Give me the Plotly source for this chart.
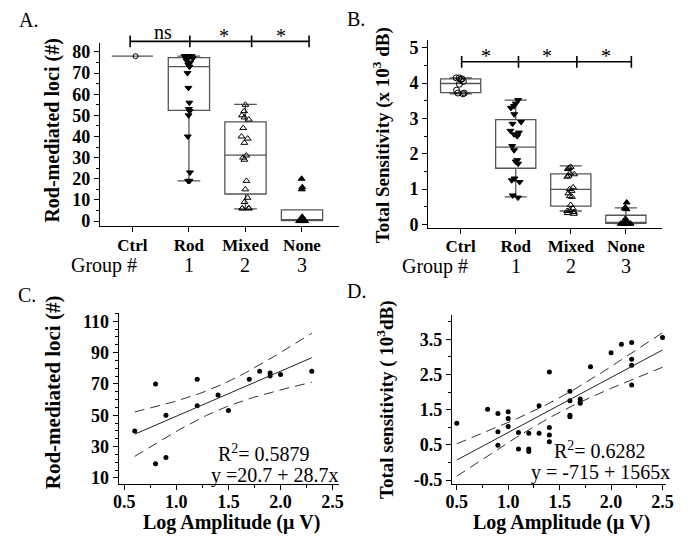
import numpy as np
import plotly.graph_objects as go

FONT = "Liberation Serif"

# ---------------- data ----------------
GROUPS = ["Ctrl", "Rod", "Mixed", "None"]
GROUP_NUMS = ["1", "2", "3"]

# Panel A: rod-mediated loci (#)
A_CTRL = [78]
A_ROD = [78, 78, 78, 78, 77, 77, 77, 76, 75, 74, 73, 70, 63, 56, 53, 52, 50, 40, 23, 19, 19]
A_MIXED = [55, 52, 50, 49, 48, 44, 40, 39, 37, 31, 30, 29, 19, 15, 11, 9, 6, 6, 6, 6]
A_NONE = [20, 16, 15, 2, 1, 0.5, 0.5, 0.5, 0, 0, 0, 0, 0, 0]
A_Q1 = [78, 52.4, 12.8, 0.2]
A_MED = [78, 73.1, 31.2, 0.4]
A_Q3 = [78, 77.3, 46.9, 5.3]
A_LO = [78, 19.0, 5.8, 0.2]
A_HI = [78, 78.0, 55.2, 5.3]
A_SIG_X = [-0.04, 1.017, 2.109, 3.125]
A_SIG_TXT = ["ns", "*", "*"]

# Panel B: total sensitivity (x10^3 dB)
B_CTRL = [4.15, 4.15, 4.12, 4.10, 4.05, 3.97, 3.80, 3.72, 3.72, 3.70]
B_ROD = [3.52, 3.42, 3.35, 3.30, 3.12, 2.90, 2.85, 2.65, 2.60, 2.55, 2.50, 2.22, 2.10,
         1.82, 1.78, 1.72, 1.30, 1.25, 1.20, 0.82, 0.76]
B_MIXED = [1.63, 1.60, 1.57, 1.45, 1.42, 1.38, 1.35, 1.05, 1.00, 0.95, 0.88, 0.80, 0.78,
           0.55, 0.45, 0.40, 0.38, 0.35, 0.32, 0.30]
B_NONE = [0.62, 0.48, 0.45, 0.43, 0.16, 0.07, 0.03, 0.03, 0.02, 0.02, 0.02, 0.02, 0.02,
          0.02, 0.02, 0.02]
B_Q1 = [3.73, 1.59, 0.52, 0.03]
B_MED = [3.99, 2.19, 0.99, 0.04]
B_Q3 = [4.12, 2.97, 1.43, 0.26]
B_LO = [3.70, 0.78, 0.38, 0.02]
B_HI = [4.15, 3.52, 1.66, 0.47]
B_SIG_X = [0.018, 1.05, 2.11, 3.10]
B_SIG_TXT = ["*", "*", "*"]

# Panel C: rod-mediated loci vs log amplitude
C_X = [0.6, 0.8, 0.8, 0.9, 0.9, 1.2, 1.2, 1.4, 1.5, 1.7, 1.8, 1.9, 1.9, 2.0, 2.3]
C_Y = [40, 70, 19, 50, 23, 73, 56, 63, 53, 73, 78, 77, 75, 76, 78]
C_FIT = [20.7, 28.7]          # intercept, slope
C_R2 = "0.5879"
C_T = 2.160                   # t(0.975, n-2)

# Panel D: total sensitivity (10^3 dB) vs log amplitude
D_X = [0.5, 0.8, 0.9, 0.9, 0.9, 1.0, 1.0, 1.0, 1.1, 1.1, 1.2, 1.2, 1.2, 1.3, 1.3,
       1.4, 1.4, 1.4, 1.4, 1.6, 1.6, 1.6, 1.6, 1.7, 1.7, 1.7, 1.8, 2.0, 2.1,
       2.2, 2.2, 2.2, 2.2, 2.5]
D_Y = [1.11, 1.51, 1.39, 0.87, 0.49, 1.44, 1.25, 1.02, 0.85, 0.38, 0.83, 0.38, 0.31,
       0.83, 1.61, 2.57, 0.99, 0.78, 0.59, 2.02, 1.75, 1.34, 1.30, 1.80, 1.73, 1.68,
       2.72, 3.12, 3.36, 3.41, 2.93, 2.76, 2.20, 3.55]
D_FIT_DB = [-715, 1565]       # intercept, slope in dB
D_R2 = "0.6282"
D_T = 2.037

# ---------------- figure ----------------
fig = go.Figure()

def add_group_panel(xa, ya, groups_vals, q1, med, q3, lo, hi, symbols, sizes):
    fig.add_trace(go.Box(
        x=list(range(len(GROUPS))), q1=q1, median=med, q3=q3,
        lowerfence=lo, upperfence=hi, width=0.73, whiskerwidth=0.55,
        line=dict(color="#555555", width=1.3), fillcolor="rgba(0,0,0,0)",
        boxpoints=False, xaxis=xa, yaxis=ya, hoverinfo="skip"))
    for i, vals in enumerate(groups_vals):
        fig.add_trace(go.Box(
            x=[i] * len(vals), y=vals, boxpoints="all", jitter=0.3, pointpos=0,
            width=0.73, line=dict(width=0), fillcolor="rgba(0,0,0,0)",
            marker=dict(symbol=symbols[i], size=sizes[i], color="black",
                        line=dict(color="black", width=1)),
            xaxis=xa, yaxis=ya))

SYMS = ["circle-open", "triangle-down", "triangle-up-open", "triangle-up"]
add_group_panel("x", "y", [A_CTRL, A_ROD, A_MIXED, A_NONE],
                A_Q1, A_MED, A_Q3, A_LO, A_HI, SYMS, [5, 6, 6, 6])
add_group_panel("x2", "y2", [B_CTRL, B_ROD, B_MIXED, B_NONE],
                B_Q1, B_MED, B_Q3, B_LO, B_HI, SYMS, [6, 6, 6, 6])

def add_reg_panel(xa, ya, xs, ys, b0, b1, tcrit):
    xs = np.asarray(xs, float)
    ys = np.asarray(ys, float)
    n = len(xs)
    resid = ys - (b0 + b1 * xs)
    s = np.sqrt(np.sum(resid ** 2) / (n - 2))
    sxx = np.sum((xs - xs.mean()) ** 2)
    grid = np.linspace(xs.min(), xs.max(), 80)
    fit = b0 + b1 * grid
    half = tcrit * s * np.sqrt(1.0 / n + (grid - xs.mean()) ** 2 / sxx)
    fig.add_trace(go.Scatter(x=xs, y=ys, mode="markers",
                             marker=dict(size=5, color="black"), xaxis=xa, yaxis=ya))
    fig.add_trace(go.Scatter(x=grid, y=fit, mode="lines",
                             line=dict(color="#222", width=1), xaxis=xa, yaxis=ya))
    for sign in (1, -1):
        fig.add_trace(go.Scatter(x=grid, y=fit + sign * half, mode="lines",
                                 line=dict(color="#333", width=1, dash="10px,6px"),
                                 xaxis=xa, yaxis=ya))

add_reg_panel("x3", "y3", C_X, C_Y, C_FIT[0], C_FIT[1], C_T)
add_reg_panel("x4", "y4", D_X, D_Y, D_FIT_DB[0] / 1000.0, D_FIT_DB[1] / 1000.0, D_T)

def axstyle(size, standoff=0):
    return dict(showline=True, linecolor="black", linewidth=1, ticks="outside",
                ticklen=5, tickcolor="black", showgrid=False, zeroline=False,
                ticklabelstandoff=standoff,
                tickfont=dict(family=FONT, size=size, color="black", weight="bold"))

minor = lambda d: dict(ticks="outside", ticklen=3, dtick=d, tickcolor="black", showgrid=False)

W, H = 694, 550
px = lambda v: v / W
py = lambda v: 1 - v / H

fig.update_layout(
    width=W, height=H, margin=dict(l=0, r=0, t=0, b=0),
    paper_bgcolor="white", plot_bgcolor="white", showlegend=False,
    boxmode="overlay", font=dict(family=FONT, color="black"),
    xaxis=dict(domain=[px(95.7), px(340)], range=[-0.577, 3.657], anchor="y",
               tickvals=[0, 1, 2, 3], ticktext=GROUPS, **axstyle(17, -1)),
    yaxis=dict(domain=[py(228), py(42.7)], range=[-2.2, 84.2], anchor="x",
               tickvals=list(range(0, 81, 10)), minor=minor(5), **axstyle(18)),
    xaxis2=dict(domain=[px(430.7), px(670)], range=[-0.593, 3.665], anchor="y2",
                tickvals=[0, 1, 2, 3], ticktext=GROUPS, **axstyle(17, -2)),
    yaxis2=dict(domain=[py(230), py(39.3)], range=[-0.092, 5.23], anchor="x2",
                tickvals=[0, 1, 2, 3, 4, 5], minor=minor(0.5), **axstyle(18)),
    xaxis3=dict(domain=[px(115), px(340)], range=[0.446, 2.563], anchor="y3",
                tickvals=[0.5, 1.0, 1.5, 2.0, 2.5], ticktext=["0.5", "1.0", "1.5", "2.0", "2.5"],
                minor=minor(0.25), **axstyle(18, -3)),
    yaxis3=dict(domain=[py(490), py(316.7)], range=[6.2, 115.2], anchor="x3",
                tickvals=[10, 30, 50, 70, 90, 110], minor=minor(5), **axstyle(18)),
    xaxis4=dict(domain=[px(455), px(673.3)], range=[0.452, 2.531], anchor="y4",
                tickvals=[0.5, 1.0, 1.5, 2.0, 2.5], ticktext=["0.5", "1.0", "1.5", "2.0", "2.5"],
                minor=minor(0.25), **axstyle(18, -3)),
    yaxis4=dict(domain=[py(490), py(318.3)], range=[-0.61, 4.2], anchor="x4",
                tickvals=[-0.5, 0.5, 1.5, 2.5, 3.5], ticktext=["-0.5", "0.5", "1.5", "2.5", "3.5"],
                minor=minor(0.5), **axstyle(18)),
)

# significance bars
shapes = []
annots = []
def sig_bars(xref, xs, ypx, labels, label_x_offsets, label_y):
    yb = py(ypx)
    shapes.append(dict(type="line", xref=xref, yref="paper", x0=xs[0], x1=xs[-1],
                       y0=yb, y1=yb, line=dict(color="black", width=1.6)))
    for xv in xs:
        shapes.append(dict(type="line", xref=xref, yref="paper", x0=xv, x1=xv,
                           y0=py(ypx - 6), y1=py(ypx + 6), line=dict(color="black", width=1.6)))
    for i, lab in enumerate(labels):
        xm = (xs[i] + xs[i + 1]) / 2
        annots.append(dict(text=lab, xref=xref, yref="paper", x=xm + label_x_offsets[i],
                           y=py(label_y if lab != "*" else label_y + 5), showarrow=False,
                           font=dict(family=FONT, size=20, color="black"),
                           xanchor="center", yanchor="middle", borderpad=0))

sig_bars("x", A_SIG_X, 41, A_SIG_TXT, [0.05, 0.05, 0.02], 31)
sig_bars("x2", B_SIG_X, 61.7, B_SIG_TXT, [-0.07, -0.01, 0.03], 51)

def text(t, x, y, size=20, bold=False, xanchor="center", angle=0, xref="paper"):
    annots.append(dict(text=t, x=x, y=y, xref=xref, yref="paper", showarrow=False,
                       textangle=angle, xanchor=xanchor, yanchor="middle", borderpad=0,
                       font=dict(family=FONT, size=size, color="black",
                                 weight="bold" if bold else "normal")))

# panel letters
text("A.", px(23), py(19))
text("B.", px(357), py(18))
text("C.", px(21), py(298))
text("D.", px(358), py(294))

# y titles
text("Rod-mediated loci (#)", px(48), py(131.5), size=20, bold=True, angle=-90)
text("Total Sensitivity (x 10<sup>3</sup> dB)", px(383.3), py(136.7), size=19, bold=True, angle=-90)
text("Rod-mediated loci (#)", px(48.3), py(396.7), size=21, bold=True, angle=-90)
text("Total sensitivity ( 10<sup>3</sup>dB)", px(386.7), py(404), size=19, bold=True, angle=-90)

# x titles
text("Log Amplitude (\u03bc V)", px(230), py(529), size=20, bold=True)
text("Log Amplitude (\u03bc V)", px(566.7), py(529), size=20, bold=True)

# group numbers
text("Group #", px(100), py(268))
text("Group #", px(438.3), py(269))
for i, g in enumerate(GROUP_NUMS):
    text(g, i + 1, py(268), xref="x")
    text(g, i + 1, py(269), xref="x2")

# regression stats
text("R<sup>2</sup>= " + C_R2, px(311), py(458.5), size=20, xanchor="right")
text("y =%g + %gx" % (C_FIT[0], C_FIT[1]), px(341), py(481), size=20, xanchor="right")
text("R<sup>2</sup>= " + D_R2, px(654), py(455.5), size=20, xanchor="right")
text("y = %g + %gx" % (D_FIT_DB[0], D_FIT_DB[1]), px(679), py(478), size=20, xanchor="right")

fig.update_layout(shapes=shapes, annotations=annots)
fig.write_html("out.html", config={"displayModeBar": False},
               post_script="document.body.style.margin='0';document.body.style.padding='0';"
                           "document.documentElement.style.overflow='hidden';")
